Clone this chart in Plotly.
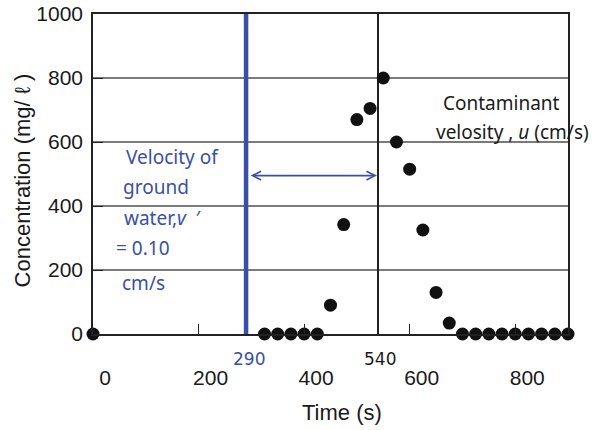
import plotly.graph_objects as go

# Breakthrough measurements: elapsed time (s) and concentration (mg/ℓ)
time_s = [0, 325, 350, 375, 400, 425, 450, 475, 500, 525, 550, 575, 600,
          625, 650, 675, 700, 725, 750, 775, 800, 825, 850, 875, 900]
conc_mg_l = [0, 0, 0, 0, 0, 0, 90, 342, 670, 705, 800, 600, 515,
             325, 130, 34, 0, 0, 0, 0, 0, 0, 0, 0, 0]

x_ticks = [0, 200, 400, 600, 800]
y_ticks = [0, 200, 400, 600, 800, 1000]

# Arrival times marked on the chart
groundwater_arrival_s = 290
contaminant_arrival_s = 540

BLUE = "#3a4fa8"
INK = "#1a1a1a"
AXIS_FONT = "Liberation Sans, Arial, sans-serif"
NOTE_FONT = "Noto Sans, DejaVu Sans, sans-serif"
NUM_FONT = "DejaVu Sans, Verdana, sans-serif"

fig = go.Figure()

fig.add_trace(go.Scatter(
    x=time_s, y=conc_mg_l, mode="markers",
    marker=dict(size=13, color="#111111"),
    cliponaxis=False, showlegend=False, hoverinfo="x+y",
))

# Vertical markers for the two arrival times
fig.add_shape(type="line", xref="x", yref="y",
              x0=groundwater_arrival_s, x1=groundwater_arrival_s, y0=0, y1=1000,
              line=dict(color=BLUE, width=4.5), layer="between")
fig.add_shape(type="line", xref="x", yref="y",
              x0=contaminant_arrival_s, x1=contaminant_arrival_s, y0=0, y1=1000,
              line=dict(color="#222222", width=2), layer="between")

# Double-headed arrow spanning the delay between the two arrivals
fig.add_annotation(
    x=contaminant_arrival_s, y=495, ax=groundwater_arrival_s, ay=495,
    xref="x", yref="y", axref="x", ayref="y", text="",
    showarrow=True, arrowside="end+start",
    arrowhead=5, startarrowhead=5, arrowsize=1, startarrowsize=1,
    arrowwidth=1.7, arrowcolor=BLUE, standoff=1, startstandoff=3,
)

# Arrival-time labels under the axis
fig.add_annotation(x=groundwater_arrival_s, y=-0.078, xref="x", yref="paper",
                   text=str(groundwater_arrival_s), showarrow=False, xshift=3,
                   xanchor="center", yanchor="middle",
                   font=dict(family=NUM_FONT, size=17, color=BLUE))
fig.add_annotation(x=contaminant_arrival_s, y=-0.078, xref="x", yref="paper",
                   text=str(contaminant_arrival_s), showarrow=False, xshift=2,
                   xanchor="center", yanchor="middle",
                   font=dict(family=NUM_FONT, size=17, color=INK))

# Groundwater velocity note
blue_lines = [
    ("Velocity of", 0.065, 0.554),
    ("ground", 0.058, 0.460),
    ("water,<i>v</i>  \u2032", 0.060, 0.3625),
    ("= 0.10", 0.045, 0.269),
    ("cm/s", 0.056, 0.159),
]
for txt, xp, yp in blue_lines:
    fig.add_annotation(x=xp, y=yp, xref="paper", yref="paper", text=txt,
                       showarrow=False, xanchor="left", yanchor="middle",
                       font=dict(family=NOTE_FONT, size=19, color=BLUE))

# Contaminant velocity note
fig.add_annotation(x=0.732, y=0.721, xref="paper", yref="paper",
                   text="Contaminant", showarrow=False, xanchor="left",
                   yanchor="middle", font=dict(family=NOTE_FONT, size=19, color=INK))
fig.add_annotation(x=0.717, y=0.632, xref="paper", yref="paper",
                   text="velosity , <i>u</i> (cm/s)", showarrow=False, xanchor="left",
                   yanchor="middle", font=dict(family=NOTE_FONT, size=19, color=INK))

# Axis titles
fig.add_annotation(x=0.5236, y=-0.246, xref="paper", yref="paper",
                   text="Time (s)", showarrow=False,
                   xanchor="center", yanchor="middle",
                   font=dict(family=AXIS_FONT, size=22, color=INK))
fig.add_annotation(x=-0.1495, y=0.48, xref="paper", yref="paper",
                   text="Concentration (mg/ \u2113 )", textangle=-90,
                   showarrow=False, xanchor="center", yanchor="middle",
                   font=dict(family=AXIS_FONT, size=22, color=INK))

fig.update_xaxes(
    range=[0, 900], tickvals=x_ticks, ticktext=[str(v) for v in x_ticks],
    ticks="inside", ticklen=10, tickwidth=1.3, tickcolor="#222222",
    showline=True, linecolor="#222222", linewidth=1.5, mirror=True,
    showgrid=False, zeroline=False, automargin=False,
    ticklabelshift=12, ticklabelstandoff=24,
    tickfont=dict(family=AXIS_FONT, size=21, color=INK),
)
fig.update_yaxes(
    range=[0, 1000], tickvals=y_ticks,
    ticks="inside", ticklen=10, tickwidth=1.3, tickcolor="#222222",
    showline=True, linecolor="#222222", linewidth=1.5, mirror=True,
    showgrid=True, gridcolor="#7a7a7a", gridwidth=1.5, zeroline=False,
    automargin=False, ticklabelstandoff=4,
    tickfont=dict(family=AXIS_FONT, size=21, color=INK),
)

fig.update_layout(
    width=604, height=430,
    margin=dict(l=93, r=36, t=14, b=96, autoexpand=False),
    paper_bgcolor="white", plot_bgcolor="white",
    showlegend=False,
)

fig.write_html("out.html")
